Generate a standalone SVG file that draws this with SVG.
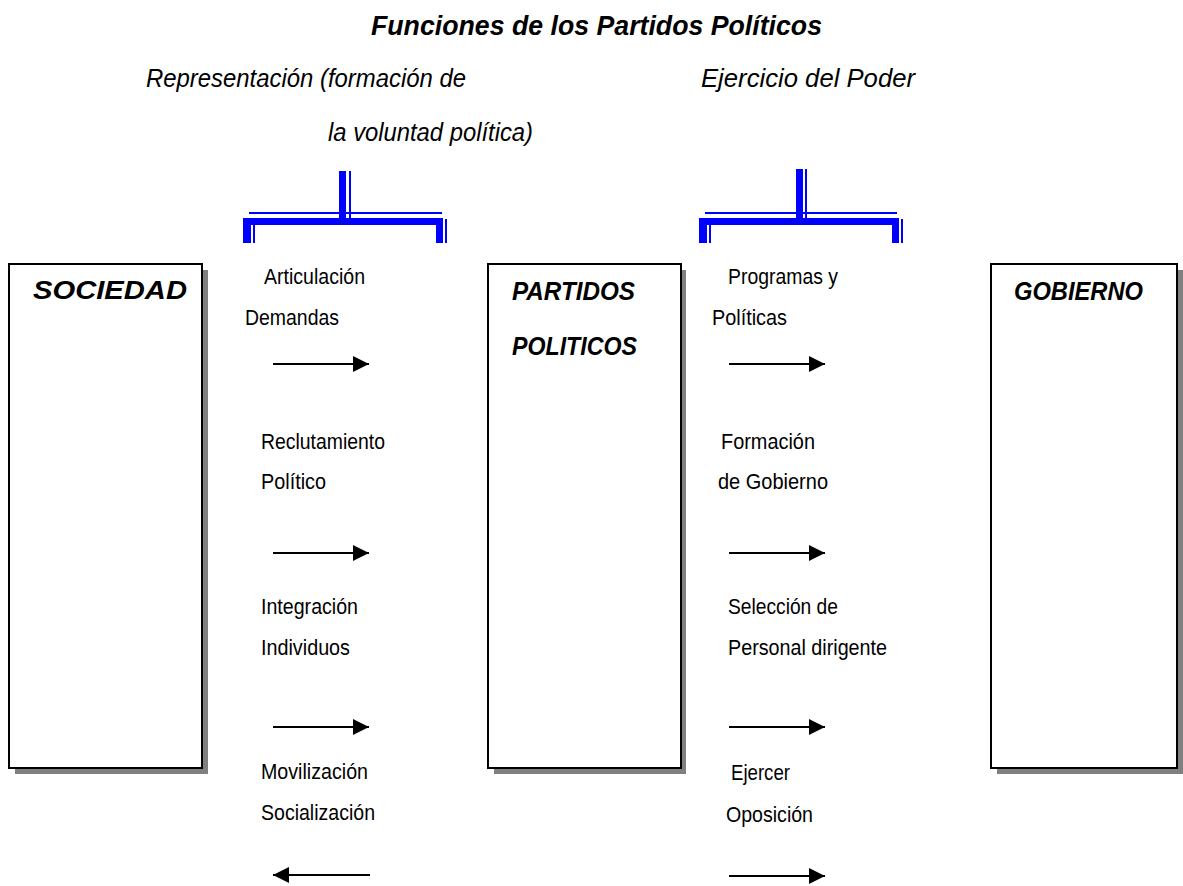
<svg xmlns="http://www.w3.org/2000/svg" width="1183" height="886" viewBox="0 0 1183 886">
<style>
.t{font-family:"Liberation Sans",Arial,sans-serif;fill:#000}
.title{font-size:28px;font-weight:bold;font-style:italic}
.sub{font-size:26px;font-style:italic}
.lbl{font-size:22px}
.box{fill:#fff;stroke:#000;stroke-width:2}
.sh{fill:#808080}
.bx{font-size:26px;font-weight:bold;font-style:italic}
.br{fill:#0000ff}
.ar{stroke:#000;stroke-width:2;fill:none}
</style>
<defs>
<marker id="ah" markerUnits="userSpaceOnUse" markerWidth="17" markerHeight="17" refX="16" refY="8" orient="auto">
<path d="M0,0 L16,8 L0,16 Z" fill="#000"/>
</marker>
</defs>
<rect width="1183" height="886" fill="#fff"/>
<g id="titles">
<text class="t title" x="371" y="35" textLength="451" lengthAdjust="spacingAndGlyphs">Funciones de los Partidos Políticos</text>
<text class="t sub" x="146" y="87" textLength="320" lengthAdjust="spacingAndGlyphs">Representación (formación de</text>
<text class="t sub" x="328" y="141" textLength="205" lengthAdjust="spacingAndGlyphs">la voluntad política)</text>
<text class="t sub" x="701" y="87" textLength="214" lengthAdjust="spacingAndGlyphs">Ejercicio del Poder</text>
</g>
<g id="bracket-left">
<rect class="br" x="339" y="171" width="7" height="48"/>
<rect class="br" x="349" y="171" width="2" height="48"/>
<rect class="br" x="249" y="212" width="193" height="2"/>
<rect class="br" x="243" y="218" width="200" height="7"/>
<rect class="br" x="243" y="218" width="8" height="25"/>
<rect class="br" x="253" y="225" width="2" height="18"/>
<rect class="br" x="436" y="218" width="7" height="25"/>
<rect class="br" x="445" y="219" width="2" height="24"/>
</g>
<g id="bracket-right">
<rect class="br" x="796" y="169" width="7" height="50"/>
<rect class="br" x="805" y="169" width="2" height="50"/>
<rect class="br" x="705" y="212" width="192" height="2"/>
<rect class="br" x="699" y="218" width="200" height="7"/>
<rect class="br" x="699" y="218" width="8" height="25"/>
<rect class="br" x="709" y="225" width="2" height="18"/>
<rect class="br" x="892" y="218" width="7" height="25"/>
<rect class="br" x="901" y="219" width="2" height="24"/>
</g>
<g id="node-sociedad">
<rect class="sh" x="15" y="270" width="193" height="504"/>
<rect class="box" x="9" y="264" width="193" height="504"/>
<text class="t bx" x="33" y="299" textLength="154" lengthAdjust="spacingAndGlyphs">SOCIEDAD</text>
</g>
<g id="node-partidos">
<rect class="sh" x="494" y="270" width="192" height="504"/>
<rect class="box" x="488" y="264" width="193" height="504"/>
<text class="t bx" x="512" y="300" textLength="123" lengthAdjust="spacingAndGlyphs">PARTIDOS</text>
<text class="t bx" x="512" y="355" textLength="125" lengthAdjust="spacingAndGlyphs">POLITICOS</text>
</g>
<g id="node-gobierno">
<rect class="sh" x="997" y="270" width="186" height="504"/>
<rect class="box" x="991" y="264" width="186" height="504"/>
<text class="t bx" x="1014" y="300" textLength="129" lengthAdjust="spacingAndGlyphs">GOBIERNO</text>
</g>
<g id="labels-left">
<text class="t lbl" x="264" y="284" textLength="101" lengthAdjust="spacingAndGlyphs">Articulación</text>
<text class="t lbl" x="245" y="325" textLength="94" lengthAdjust="spacingAndGlyphs">Demandas</text>
<text class="t lbl" x="261" y="449" textLength="124" lengthAdjust="spacingAndGlyphs">Reclutamiento</text>
<text class="t lbl" x="261" y="489" textLength="65" lengthAdjust="spacingAndGlyphs">Político</text>
<text class="t lbl" x="261" y="614" textLength="97" lengthAdjust="spacingAndGlyphs">Integración</text>
<text class="t lbl" x="261" y="655" textLength="89" lengthAdjust="spacingAndGlyphs">Individuos</text>
<text class="t lbl" x="261" y="779" textLength="107" lengthAdjust="spacingAndGlyphs">Movilización</text>
<text class="t lbl" x="261" y="820" textLength="114" lengthAdjust="spacingAndGlyphs">Socialización</text>
</g>
<g id="labels-right">
<text class="t lbl" x="728" y="284" textLength="110" lengthAdjust="spacingAndGlyphs">Programas y</text>
<text class="t lbl" x="712" y="325" textLength="75" lengthAdjust="spacingAndGlyphs">Políticas</text>
<text class="t lbl" x="721" y="449" textLength="94" lengthAdjust="spacingAndGlyphs">Formación</text>
<text class="t lbl" x="718" y="489" textLength="110" lengthAdjust="spacingAndGlyphs">de Gobierno</text>
<text class="t lbl" x="728" y="614" textLength="110" lengthAdjust="spacingAndGlyphs">Selección de</text>
<text class="t lbl" x="728" y="655" textLength="159" lengthAdjust="spacingAndGlyphs">Personal dirigente</text>
<text class="t lbl" x="731" y="780" textLength="59" lengthAdjust="spacingAndGlyphs">Ejercer</text>
<text class="t lbl" x="726" y="822" textLength="87" lengthAdjust="spacingAndGlyphs">Oposición</text>
</g>
<g id="connectors">
<line class="ar" x1="273" y1="364" x2="369" y2="364" marker-end="url(#ah)"/>
<line class="ar" x1="273" y1="553" x2="369" y2="553" marker-end="url(#ah)"/>
<line class="ar" x1="273" y1="727" x2="369" y2="727" marker-end="url(#ah)"/>
<line class="ar" x1="370" y1="875" x2="273" y2="875" marker-end="url(#ah)"/>
<line class="ar" x1="729" y1="364" x2="825" y2="364" marker-end="url(#ah)"/>
<line class="ar" x1="729" y1="553" x2="825" y2="553" marker-end="url(#ah)"/>
<line class="ar" x1="729" y1="727" x2="825" y2="727" marker-end="url(#ah)"/>
<line class="ar" x1="729" y1="876" x2="825" y2="876" marker-end="url(#ah)"/>
</g>
</svg>
